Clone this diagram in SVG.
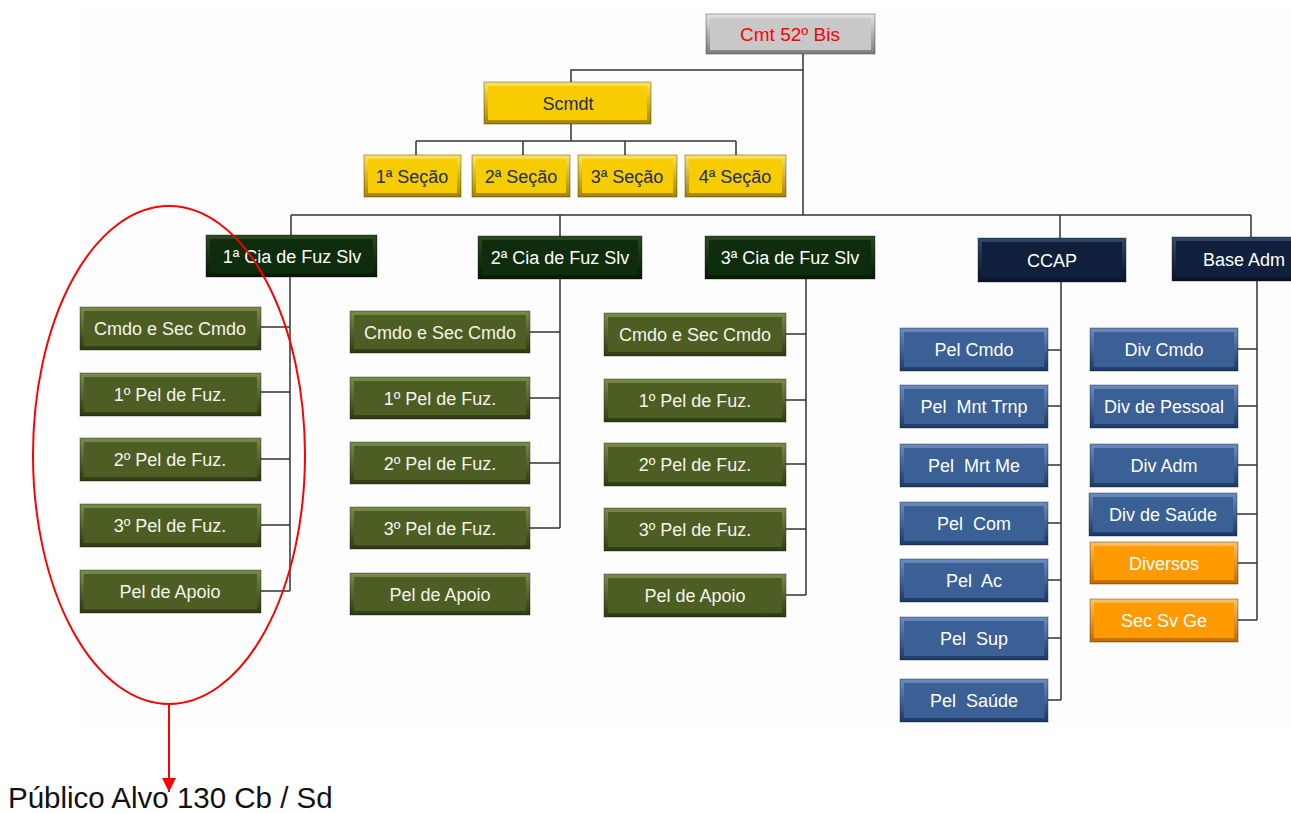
<svg xmlns="http://www.w3.org/2000/svg" width="1291" height="813" viewBox="0 0 1291 813">
<defs>
<linearGradient id="gGray" x1="0" y1="0" x2="0" y2="1"><stop offset="0" stop-color="#e4e4e4"/><stop offset="1" stop-color="#7e7e7e"/></linearGradient>
<linearGradient id="gYel" x1="0" y1="0" x2="0" y2="1"><stop offset="0" stop-color="#ffe45a"/><stop offset="1" stop-color="#a88400"/></linearGradient>
<linearGradient id="gDg" x1="0" y1="0" x2="0" y2="1"><stop offset="0" stop-color="#2c4a22"/><stop offset="1" stop-color="#071a05"/></linearGradient>
<linearGradient id="gOl" x1="0" y1="0" x2="0" y2="1"><stop offset="0" stop-color="#7a8c4c"/><stop offset="1" stop-color="#2e3b12"/></linearGradient>
<linearGradient id="gNv" x1="0" y1="0" x2="0" y2="1"><stop offset="0" stop-color="#34486a"/><stop offset="1" stop-color="#08132a"/></linearGradient>
<linearGradient id="gBl" x1="0" y1="0" x2="0" y2="1"><stop offset="0" stop-color="#6a8cc0"/><stop offset="1" stop-color="#1d3a66"/></linearGradient>
<linearGradient id="gOr" x1="0" y1="0" x2="0" y2="1"><stop offset="0" stop-color="#ffc060"/><stop offset="1" stop-color="#c06c00"/></linearGradient>
<marker id="arr" markerWidth="14" markerHeight="14" refX="14" refY="7" orient="auto" markerUnits="userSpaceOnUse" viewBox="0 0 14 14"><path d="M0,0 L14,7 L0,14 Z" fill="#ff0000"/></marker>
</defs>
<style>
text{font-family:"Liberation Sans",Arial,sans-serif;text-anchor:middle;font-size:18px}
.gray .o{fill:url(#gGray)} .gray .i{fill:#c8c8c8} .gray text{fill:#ff0000;font-size:19px}
.yel .o{fill:url(#gYel)} .yel .i{fill:#f7cc00} .yel text{fill:#1f2f5c}
.dg .o{fill:url(#gDg)} .dg .i{fill:#0e2d0c} .dg text{fill:#ffffff}
.ol .o{fill:url(#gOl)} .ol .i{fill:#4c5e24} .ol text{fill:#f4f4ea}
.nv .o{fill:url(#gNv)} .nv .i{fill:#0f1f3c} .nv text{fill:#ffffff}
.bl .o{fill:url(#gBl)} .bl .i{fill:#3a6096} .bl text{fill:#ffffff}
.or .o{fill:url(#gOr)} .or .i{fill:#ff9a00} .or text{fill:#ffffff}
.o{stroke:rgba(0,0,0,0.35);stroke-width:1}
.conn path{fill:none;stroke:#333333;stroke-width:1.5}
.red{fill:none;stroke:#ff0000;stroke-width:2}
</style>
<rect x="78" y="8" width="1213" height="722" fill="#fdfdfd"/>

<g id="connectors" class="conn">
<path d="M803,54 V215"/>
<path d="M803,70 H571 V82"/>
<path d="M571,124 V141 M416,141 H736 M416,141 V155 M523,141 V155 M625,141 V155 M736,141 V155"/>
<path d="M291,215 H1251 M291,215 V235 M560,215 V236 M1060,215 V238 M1251,215 V237"/>
<path d="M290,277 V591 M261,327 H290 M261,392 H290 M261,459 H290 M261,525 H290 M261,591 H290"/>
<path d="M560,279 V528 M530,332 H560 M530,398 H560 M530,463 H560 M530,528 H560"/>
<path d="M806,279 V595 M786,334 H806 M786,400 H806 M786,464 H806 M786,529 H806 M786,595 H806"/>
<path d="M1061,282 V700 M1048,350 H1061 M1048,406 H1061 M1048,465 H1061 M1048,523 H1061 M1048,580 H1061 M1048,638 H1061 M1048,700 H1061"/>
<path d="M1257,281 V620 M1238,349 H1257 M1238,406 H1257 M1238,465 H1257 M1237,514 H1257 M1238,563 H1257 M1238,620 H1257"/>
</g>

<g id="n-cmt" class="gray"><rect class="o" x="706" y="14" width="169" height="40"/><rect class="i" x="710" y="18" width="161" height="32"/><text x="790" y="41">Cmt 52º Bis</text></g>
<g id="n-scmdt" class="yel"><rect class="o" x="484" y="82" width="167" height="42"/><rect class="i" x="488" y="86" width="159" height="34"/><text x="568" y="110">Scmdt</text></g>
<g id="n-sec1" class="yel"><rect class="o" x="364" y="155" width="97" height="42"/><rect class="i" x="368" y="159" width="89" height="34"/><text x="412" y="183">1ª Seção</text></g>
<g id="n-sec2" class="yel"><rect class="o" x="472" y="155" width="98" height="42"/><rect class="i" x="476" y="159" width="90" height="34"/><text x="521" y="183">2ª Seção</text></g>
<g id="n-sec3" class="yel"><rect class="o" x="578" y="155" width="99" height="42"/><rect class="i" x="582" y="159" width="91" height="34"/><text x="627" y="183">3ª Seção</text></g>
<g id="n-sec4" class="yel"><rect class="o" x="685" y="155" width="101" height="42"/><rect class="i" x="689" y="159" width="93" height="34"/><text x="735" y="183">4ª Seção</text></g>

<g id="n-cia1" class="dg"><rect class="o" x="206" y="235" width="171" height="42"/><rect class="i" x="210" y="239" width="163" height="34"/><text x="292" y="263">1ª Cia de Fuz Slv</text></g>
<g id="n-cia2" class="dg"><rect class="o" x="478" y="236" width="164" height="43"/><rect class="i" x="482" y="240" width="156" height="35"/><text x="560" y="264">2ª Cia de Fuz Slv</text></g>
<g id="n-cia3" class="dg"><rect class="o" x="705" y="236" width="170" height="43"/><rect class="i" x="709" y="240" width="162" height="35"/><text x="790" y="264">3ª Cia de Fuz Slv</text></g>
<g id="n-ccap" class="nv"><rect class="o" x="978" y="238" width="148" height="44"/><rect class="i" x="982" y="242" width="140" height="36"/><text x="1052" y="267">CCAP</text></g>
<g id="n-base" class="nv"><rect class="o" x="1172" y="237" width="140" height="44"/><rect class="i" x="1176" y="241" width="132" height="36"/><text x="1244" y="266">Base Adm</text></g>

<g id="n-c1-cmdo" class="ol"><rect class="o" x="80" y="307" width="181" height="43"/><rect class="i" x="84" y="311" width="173" height="35"/><text x="170" y="335">Cmdo e Sec Cmdo</text></g>
<g id="n-c1-p1" class="ol"><rect class="o" x="80" y="373" width="181" height="43"/><rect class="i" x="84" y="377" width="173" height="35"/><text x="170" y="401">1º Pel de Fuz.</text></g>
<g id="n-c1-p2" class="ol"><rect class="o" x="80" y="438" width="181" height="43"/><rect class="i" x="84" y="442" width="173" height="35"/><text x="170" y="466">2º Pel de Fuz.</text></g>
<g id="n-c1-p3" class="ol"><rect class="o" x="80" y="504" width="181" height="43"/><rect class="i" x="84" y="508" width="173" height="35"/><text x="170" y="532">3º Pel de Fuz.</text></g>
<g id="n-c1-ap" class="ol"><rect class="o" x="80" y="570" width="181" height="43"/><rect class="i" x="84" y="574" width="173" height="35"/><text x="170" y="598">Pel de Apoio</text></g>

<g id="n-c2-cmdo" class="ol"><rect class="o" x="350" y="311" width="180" height="42"/><rect class="i" x="354" y="315" width="172" height="34"/><text x="440" y="339">Cmdo e Sec Cmdo</text></g>
<g id="n-c2-p1" class="ol"><rect class="o" x="350" y="377" width="180" height="42"/><rect class="i" x="354" y="381" width="172" height="34"/><text x="440" y="405">1º Pel de Fuz.</text></g>
<g id="n-c2-p2" class="ol"><rect class="o" x="350" y="442" width="180" height="42"/><rect class="i" x="354" y="446" width="172" height="34"/><text x="440" y="470">2º Pel de Fuz.</text></g>
<g id="n-c2-p3" class="ol"><rect class="o" x="350" y="507" width="180" height="42"/><rect class="i" x="354" y="511" width="172" height="34"/><text x="440" y="535">3º Pel de Fuz.</text></g>
<g id="n-c2-ap" class="ol"><rect class="o" x="350" y="573" width="180" height="42"/><rect class="i" x="354" y="577" width="172" height="34"/><text x="440" y="601">Pel de Apoio</text></g>

<g id="n-c3-cmdo" class="ol"><rect class="o" x="604" y="313" width="182" height="43"/><rect class="i" x="608" y="317" width="174" height="35"/><text x="695" y="341">Cmdo e Sec Cmdo</text></g>
<g id="n-c3-p1" class="ol"><rect class="o" x="604" y="379" width="182" height="43"/><rect class="i" x="608" y="383" width="174" height="35"/><text x="695" y="407">1º Pel de Fuz.</text></g>
<g id="n-c3-p2" class="ol"><rect class="o" x="604" y="443" width="182" height="43"/><rect class="i" x="608" y="447" width="174" height="35"/><text x="695" y="471">2º Pel de Fuz.</text></g>
<g id="n-c3-p3" class="ol"><rect class="o" x="604" y="508" width="182" height="43"/><rect class="i" x="608" y="512" width="174" height="35"/><text x="695" y="536">3º Pel de Fuz.</text></g>
<g id="n-c3-ap" class="ol"><rect class="o" x="604" y="574" width="182" height="43"/><rect class="i" x="608" y="578" width="174" height="35"/><text x="695" y="602">Pel de Apoio</text></g>

<g id="n-pcmdo" class="bl"><rect class="o" x="900" y="328" width="148" height="43"/><rect class="i" x="904" y="332" width="140" height="35"/><text x="974" y="356">Pel Cmdo</text></g>
<g id="n-pmnt" class="bl"><rect class="o" x="900" y="385" width="148" height="43"/><rect class="i" x="904" y="389" width="140" height="35"/><text x="974" y="413" xml:space="preserve">Pel  Mnt Trnp</text></g>
<g id="n-pmrt" class="bl"><rect class="o" x="900" y="444" width="148" height="43"/><rect class="i" x="904" y="448" width="140" height="35"/><text x="974" y="472" xml:space="preserve">Pel  Mrt Me</text></g>
<g id="n-pcom" class="bl"><rect class="o" x="900" y="502" width="148" height="43"/><rect class="i" x="904" y="506" width="140" height="35"/><text x="974" y="530" xml:space="preserve">Pel  Com</text></g>
<g id="n-pac" class="bl"><rect class="o" x="900" y="559" width="148" height="43"/><rect class="i" x="904" y="563" width="140" height="35"/><text x="974" y="587" xml:space="preserve">Pel  Ac</text></g>
<g id="n-psup" class="bl"><rect class="o" x="900" y="617" width="148" height="43"/><rect class="i" x="904" y="621" width="140" height="35"/><text x="974" y="645" xml:space="preserve">Pel  Sup</text></g>
<g id="n-psau" class="bl"><rect class="o" x="900" y="679" width="148" height="43"/><rect class="i" x="904" y="683" width="140" height="35"/><text x="974" y="707" xml:space="preserve">Pel  Saúde</text></g>

<g id="n-dcmdo" class="bl"><rect class="o" x="1090" y="328" width="148" height="43"/><rect class="i" x="1094" y="332" width="140" height="35"/><text x="1164" y="356">Div Cmdo</text></g>
<g id="n-dpes" class="bl"><rect class="o" x="1090" y="385" width="148" height="43"/><rect class="i" x="1094" y="389" width="140" height="35"/><text x="1164" y="413">Div de Pessoal</text></g>
<g id="n-dadm" class="bl"><rect class="o" x="1090" y="444" width="148" height="43"/><rect class="i" x="1094" y="448" width="140" height="35"/><text x="1164" y="472">Div Adm</text></g>
<g id="n-dsau" class="bl"><rect class="o" x="1089" y="493" width="148" height="43"/><rect class="i" x="1093" y="497" width="140" height="35"/><text x="1163" y="521">Div de Saúde</text></g>
<g id="n-div" class="or"><rect class="o" x="1090" y="542" width="148" height="42"/><rect class="i" x="1094" y="546" width="140" height="34"/><text x="1164" y="570">Diversos</text></g>
<g id="n-ssg" class="or"><rect class="o" x="1090" y="599" width="148" height="43"/><rect class="i" x="1094" y="603" width="140" height="35"/><text x="1164" y="627">Sec Sv Ge</text></g>

<text x="8" y="808" style="text-anchor:start;font-size:29.5px;fill:#111111">Público Alvo 130 Cb / Sd</text>
<g id="highlight">
<ellipse class="red" cx="169" cy="455" rx="136" ry="249"/>
<path d="M169,704 V792" stroke="#ff0000" stroke-width="2" fill="none" marker-end="url(#arr)"/>
</g>
</svg>
